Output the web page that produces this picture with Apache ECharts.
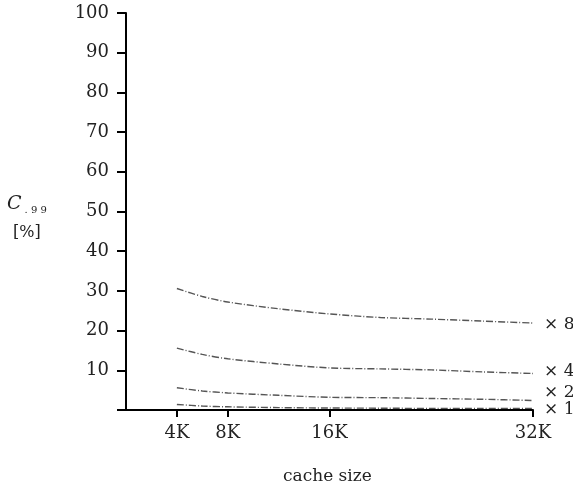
<!DOCTYPE html>
<html>
<head>
<meta charset="utf-8">
<script src="https://cdn.jsdelivr.net/npm/echarts@6/dist/echarts.min.js"></script>
<style>
  html, body { margin: 0; padding: 0; background: #fff; }
  #chart { width: 573px; height: 484px; }
</style>
</head>
<body>
<div id="chart"></div>
<script>
// Cache size in K
const cacheSizes = [4, 6, 8, 12, 16, 20, 24, 28, 32];
const xTickValues = [4, 8, 16, 32];

// C.99 percentages for each multiplier
const seriesNames = ['× 8', '× 4', '× 2', '× 1'];
const valuesX8 = [30.6, 28.6, 27.2, 25.5, 24.2, 23.3, 22.9, 22.4, 21.9];
const valuesX4 = [15.6, 14.0, 12.9, 11.6, 10.6, 10.35, 10.1, 9.6, 9.2];
const valuesX2 = [5.6, 4.8, 4.3, 3.7, 3.2, 3.1, 2.9, 2.7, 2.4];
const valuesX1 = [1.4, 1.0, 0.8, 0.6, 0.5, 0.45, 0.4, 0.4, 0.4];
const labelShift = [2, -2, -8, 1];

const serif = '"DejaVu Serif", "Liberation Serif", serif';
const allValues = [valuesX8, valuesX4, valuesX2, valuesX1];

const chart = echarts.init(document.getElementById('chart'), null, { renderer: 'canvas' });

const series = allValues.map((vals, i) => ({
  name: seriesNames[i],
  type: 'line',
  data: cacheSizes.map((x, j) => [x, vals[j]]),
  showSymbol: false,
  smooth: 0.3,
  lineStyle: { color: '#555', width: 1.4, type: [7, 2, 1, 2] },
  endLabel: {
    show: true,
    formatter: seriesNames[i],
    color: '#222',
    fontFamily: serif,
    fontSize: 17,
    distance: 11,
    offset: [0, labelShift[i]]
  },
  animation: false
}));

chart.setOption({
  animation: false,
  grid: { left: 126, right: 40, top: 13, bottom: 74, containLabel: false },
  xAxis: {
    type: 'value',
    min: 0,
    max: 32,
    interval: 4,
    axisLine: { show: true, onZero: false, lineStyle: { color: '#000', width: 2 } },
    axisTick: { show: true, length: 7, lineStyle: { color: '#000', width: 2 }, customValues: xTickValues },
    axisLabel: {
      customValues: xTickValues,
      formatter: v => v + 'K',
      color: '#222', fontFamily: serif, fontSize: 18, margin: 14
    },
    splitLine: { show: false }
  },
  yAxis: {
    type: 'value',
    min: 0,
    max: 100,
    interval: 10,
    axisLine: { show: true, lineStyle: { color: '#000', width: 2 } },
    axisTick: { show: true, length: 9, lineStyle: { color: '#000', width: 2 } },
    axisLabel: {
      formatter: v => (v === 0 ? '' : String(v)),
      color: '#222', fontFamily: serif, fontSize: 18, margin: 17
    },
    splitLine: { show: false }
  },
  graphic: [
    {
      type: 'text', left: 7, top: 195,
      style: {
        text: '{c|C}{s|. 9 9}',
        rich: {
          c: { font: 'italic 19px "DejaVu Serif"', fill: '#222' },
          s: { font: '10px "DejaVu Serif"', fill: '#222', padding: [12, 0, 0, 3] }
        }
      }
    },
    {
      type: 'text', left: 13, top: 225,
      style: { text: '[%]', font: '16px "DejaVu Serif"', fill: '#222' }
    },
    {
      type: 'text', left: 283, top: 468,
      style: { text: 'cache size', font: '17px "DejaVu Serif"', fill: '#222' }
    }
  ],
  series: series
});
</script>
</body>
</html>
